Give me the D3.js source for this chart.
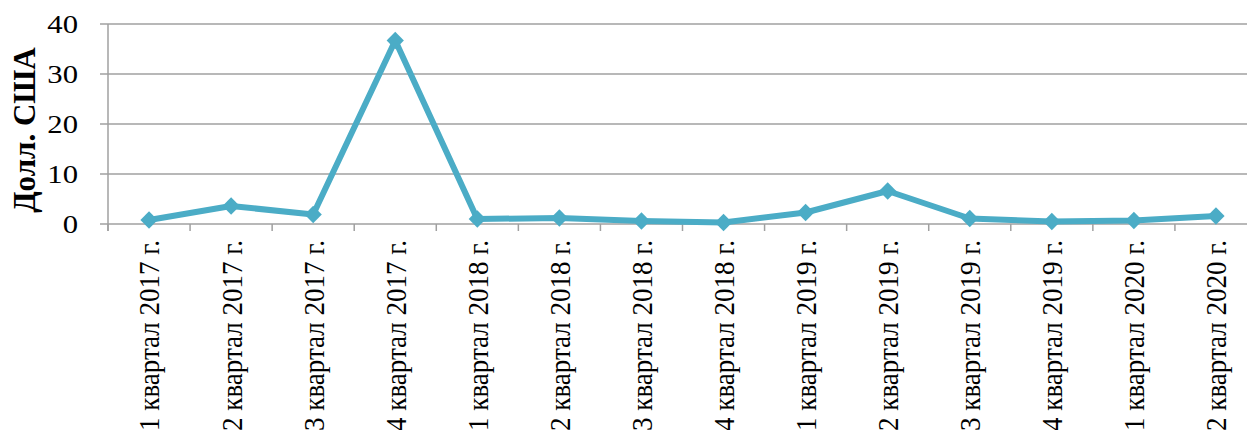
<!DOCTYPE html>
<html>
<head>
<meta charset="utf-8">
<script src="https://cdn.jsdelivr.net/npm/d3@7"></script>
<style>
  body { margin: 0; background: #fff; }
  svg text { font-family: "Times New Roman", "Liberation Serif", "DejaVu Serif", serif; }
</style>
</head>
<body>
<div id="chart"></div>
<script>
const categories = [
  '1 квартал 2017 г.', '2 квартал 2017 г.', '3 квартал 2017 г.', '4 квартал 2017 г.',
  '1 квартал 2018 г.', '2 квартал 2018 г.', '3 квартал 2018 г.', '4 квартал 2018 г.',
  '1 квартал 2019 г.', '2 квартал 2019 г.', '3 квартал 2019 г.', '4 квартал 2019 г.',
  '1 квартал 2020 г.', '2 квартал 2020 г.'
]
const values = [0.8, 3.6, 1.9, 36.7, 1.0, 1.2, 0.6, 0.3, 2.3, 6.6, 1.1, 0.5, 0.7, 1.6]
const yTicks = [0, 10, 20, 30, 40]
const yTitle = 'Долл. США'

const width = 1247
const height = 430
const margin = { top: 24, right: -10, bottom: 206, left: 108 }

const data = categories.map((c, i) => ({ label: c, value: values[i] }))

const x = d3.scaleBand()
  .domain(categories)
  .range([margin.left, width - margin.right])
  .padding(0)

const y = d3.scaleLinear()
  .domain([0, 40])
  .range([height - margin.bottom, margin.top])

const svg = d3.select('#chart').append('svg')
  .attr('width', width)
  .attr('height', height)

// gridlines
svg.append('g')
  .selectAll('line')
  .data(yTicks)
  .join('line')
  .attr('x1', margin.left - 8)
  .attr('x2', width)
  .attr('y1', d => y(d))
  .attr('y2', d => y(d))
  .attr('stroke', '#a0a0a0')
  .attr('stroke-width', 1.5)

// y axis line
svg.append('line')
  .attr('x1', margin.left)
  .attr('x2', margin.left)
  .attr('y1', y(40))
  .attr('y2', y(0) + 7)
  .attr('stroke', '#a0a0a0')
  .attr('stroke-width', 1.5)

// x tick marks at band edges
const edges = categories.map(c => x(c)).concat([x(categories[categories.length - 1]) + x.bandwidth()])
svg.append('g')
  .selectAll('line')
  .data(edges)
  .join('line')
  .attr('x1', d => d)
  .attr('x2', d => d)
  .attr('y1', y(0))
  .attr('y2', y(0) + 7)
  .attr('stroke', '#a0a0a0')
  .attr('stroke-width', 1.5)

// y tick labels (source is a bit wider than tall)
svg.append('g')
  .selectAll('text')
  .data(yTicks)
  .join('text')
  .attr('transform', d => `translate(78,${y(d)}) scale(1.18,1)`)
  .attr('dy', '0.35em')
  .attr('text-anchor', 'end')
  .attr('font-size', 26)
  .text(d => d)

// x labels
svg.append('g')
  .selectAll('text')
  .data(categories)
  .join('text')
  .attr('transform', d => `translate(${x(d) + x.bandwidth() / 2},240) scale(1.1,1) rotate(-90)`)
  .attr('dy', '0.35em')
  .attr('text-anchor', 'end')
  .attr('font-size', 27)
  .text(d => d)

// y title
svg.append('text')
  .attr('transform', `translate(24,${(y(0) + y(40)) / 2 + 6}) rotate(-90)`)
  .attr('dy', '0.35em')
  .attr('text-anchor', 'middle')
  .attr('font-size', 31)
  .attr('font-weight', 'bold')
  .text(yTitle)

const line = d3.line()
  .x(d => x(d.label) + x.bandwidth() / 2)
  .y(d => y(d.value))

svg.append('path')
  .datum(data)
  .attr('fill', 'none')
  .attr('stroke', '#4bacc6')
  .attr('stroke-width', 6)
  .attr('stroke-linejoin', 'round')
  .attr('d', line)

svg.append('g')
  .selectAll('path')
  .data(data)
  .join('path')
  .attr('transform', d => `translate(${x(d.label) + x.bandwidth() / 2},${y(d.value)})`)
  .attr('d', d3.symbol(d3.symbolDiamond2, 190))
  .attr('fill', '#4bacc6')
</script>
</body>
</html>
